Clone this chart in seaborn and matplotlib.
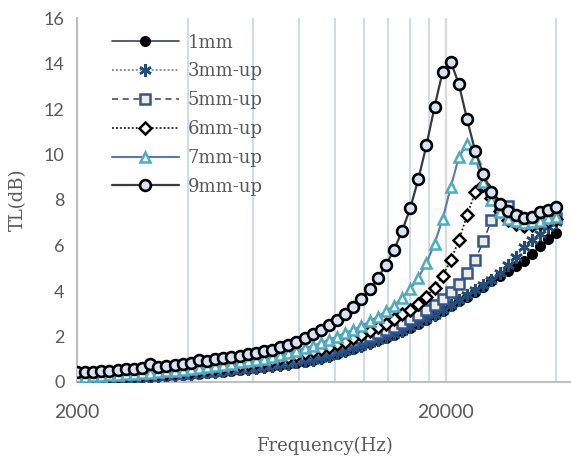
import numpy as np
import pandas as pd
import seaborn as sns
import matplotlib
matplotlib.use("Agg")
import matplotlib.pyplot as plt
from matplotlib.ticker import FixedLocator, NullFormatter, FixedFormatter

# ---------------- data ----------------
freq = [2000, 2104, 2214, 2329, 2450, 2578, 2712, 2854, 3002, 3159,
        3323, 3496, 3678, 3870, 4071, 4283, 4506, 4741, 4988, 5248,
        5521, 5809, 6111, 6430, 6764, 7117, 7487, 7877, 8288, 8719,
        9173, 9651, 10154, 10682, 11239, 11824, 12440, 13088, 13769, 14487,
        15241, 16035, 16870, 17749, 18673, 19645, 20669, 21745, 22878, 24069,
        25323, 26641, 28029, 29489, 31025, 32640, 34340, 36129, 38010, 40000]

tl_1mm = [0.10, 0.11, 0.12, 0.14, 0.15, 0.17, 0.18, 0.20, 0.22, 0.24,
          0.26, 0.28, 0.30, 0.32, 0.35, 0.37, 0.40, 0.43, 0.46, 0.49,
          0.53, 0.56, 0.60, 0.64, 0.69, 0.74, 0.79, 0.84, 0.90, 0.96,
          1.04, 1.14, 1.24, 1.35, 1.46, 1.58, 1.71, 1.83, 1.95, 2.08,
          2.23, 2.38, 2.56, 2.74, 2.94, 3.13, 3.33, 3.54, 3.75, 3.97,
          4.18, 4.42, 4.66, 4.88, 5.08, 5.32, 5.64, 5.96, 6.29, 6.55]

tl_3mm = [0.12, 0.13, 0.14, 0.16, 0.17, 0.19, 0.20, 0.22, 0.24, 0.26,
          0.28, 0.30, 0.32, 0.34, 0.37, 0.39, 0.42, 0.45, 0.48, 0.51,
          0.55, 0.58, 0.62, 0.66, 0.71, 0.76, 0.81, 0.86, 0.92, 0.98,
          1.06, 1.16, 1.26, 1.37, 1.48, 1.60, 1.73, 1.85, 1.97, 2.10,
          2.25, 2.40, 2.58, 2.76, 2.96, 3.16, 3.38, 3.60, 3.82, 4.04,
          4.26, 4.50, 4.78, 5.14, 5.50, 5.95, 6.24, 6.52, 6.80, 7.02]

tl_5mm = [0.15, 0.16, 0.18, 0.19, 0.21, 0.23, 0.25, 0.27, 0.29, 0.31,
          0.33, 0.35, 0.38, 0.41, 0.44, 0.47, 0.50, 0.54, 0.58, 0.62,
          0.67, 0.72, 0.77, 0.83, 0.89, 0.96, 1.03, 1.11, 1.19, 1.28,
          1.37, 1.47, 1.57, 1.68, 1.80, 1.92, 2.04, 2.17, 2.29, 2.43,
          2.58, 2.76, 2.95, 3.16, 3.39, 3.65, 3.96, 4.32, 4.79, 5.36,
          6.18, 7.10, 7.60, 7.75, 7.30, 7.05, 7.00, 7.05, 7.12, 7.20]

tl_6mm = [0.18, 0.19, 0.21, 0.23, 0.25, 0.27, 0.29, 0.31, 0.33, 0.36,
          0.38, 0.41, 0.44, 0.47, 0.50, 0.54, 0.58, 0.62, 0.66, 0.71,
          0.76, 0.81, 0.86, 0.92, 0.98, 1.05, 1.12, 1.19, 1.27, 1.36,
          1.45, 1.55, 1.66, 1.77, 1.92, 2.07, 2.24, 2.40, 2.56, 2.78,
          2.97, 3.17, 3.43, 3.75, 4.15, 4.67, 5.35, 6.24, 7.33, 8.33,
          8.68, 8.10, 7.50, 7.10, 6.95, 6.85, 6.90, 6.98, 7.08, 7.18]

tl_7mm = [0.22, 0.24, 0.26, 0.28, 0.30, 0.32, 0.34, 0.36, 0.39, 0.41,
          0.44, 0.47, 0.50, 0.53, 0.57, 0.61, 0.65, 0.70, 0.75, 0.80,
          0.86, 0.91, 0.97, 1.03, 1.10, 1.18, 1.26, 1.38, 1.48, 1.58,
          1.72, 1.84, 2.00, 2.15, 2.30, 2.46, 2.66, 2.87, 3.10, 3.36,
          3.68, 4.08, 4.58, 5.23, 6.08, 7.17, 8.57, 9.90, 10.45, 9.83,
          8.77, 8.00, 7.46, 7.16, 7.08, 7.00, 7.02, 7.09, 7.19, 7.27]

tl_9mm = [0.42, 0.44, 0.46, 0.48, 0.50, 0.53, 0.55, 0.58, 0.61, 0.78,
          0.66, 0.70, 0.75, 0.80, 0.84, 0.97, 0.91, 1.02, 1.07, 1.12,
          1.16, 1.22, 1.28, 1.35, 1.42, 1.52, 1.63, 1.78, 1.93, 2.11,
          2.29, 2.51, 2.73, 2.97, 3.31, 3.65, 4.09, 4.57, 5.13, 5.80,
          6.63, 7.63, 8.91, 10.40, 12.10, 13.64, 14.08, 13.08, 11.55, 10.15,
          9.13, 8.34, 7.82, 7.53, 7.34, 7.22, 7.27, 7.46, 7.56, 7.68]

labels = ["1mm", "3mm-up", "5mm-up", "6mm-up", "7mm-up", "9mm-up"]
series = [tl_1mm, tl_3mm, tl_5mm, tl_6mm, tl_7mm, tl_9mm]
x_ticks = [2000, 20000]
x_tick_labels = ["2000", "20000"]
x_minor_grid = [4000, 6000, 8000, 10000, 12000, 14000, 16000, 18000, 40000]
y_ticks = [0, 2, 4, 6, 8, 10, 12, 14, 16]

# ---------------- style ----------------
sns.set_theme(style="white")
plt.rcParams["font.family"] = ["DejaVu Serif"]
GRAY = "#595959"

styles = [
    dict(color="#44546A", lw=1.3, ls="-", marker="o", ms=7.0,
         mfc="black", mec="black", mew=1.0),
    dict(color="#5B86C5", lw=1.3, ls=(0, (1, 1.2)), marker=(6, 2, 0), ms=9.0,
         mfc="#1F4E79", mec="#1F4E79", mew=1.8),
    dict(color="#404040", lw=1.1, ls=(0, (4, 3)), marker="s", ms=7.0,
         mfc="#EEECE1", mec="#2F5597", mew=1.8),
    dict(color="#202020", lw=1.3, ls=(0, (1, 1.2)), marker="D", ms=6.0,
         mfc="white", mec="black", mew=1.8),
    dict(color="#5A7BA6", lw=1.5, ls="-", marker="^", ms=7.0,
         mfc="white", mec="#4BACC6", mew=1.8),
    dict(color="#3A3A3A", lw=1.6, ls="-", marker="o", ms=7.8,
         mfc="#D6E3F3", mec="black", mew=1.9),
]

fig = plt.figure(figsize=(5.71, 4.57), dpi=100)
ax = fig.add_axes([77 / 571, 75 / 457, 494 / 571, 364 / 457])

for lab, vals, st in zip(labels, series, styles):
    df = pd.DataFrame({"Frequency": freq, "TL": vals})
    sns.lineplot(data=df, x="Frequency", y="TL", ax=ax, label=lab,
                 sort=False, errorbar=None, color=st["color"],
                 linewidth=st["lw"], linestyle=st["ls"], marker=st["marker"],
                 markersize=st["ms"], markerfacecolor=st["mfc"],
                 markeredgecolor=st["mec"], markeredgewidth=st["mew"], zorder=3)

ax.set_xscale("log")
ax.set_xlim(2000, 43800)
ax.set_ylim(0, 16)

ax.xaxis.set_major_locator(FixedLocator(x_ticks))
ax.xaxis.set_major_formatter(FixedFormatter(x_tick_labels))
ax.xaxis.set_minor_locator(FixedLocator(x_minor_grid))
ax.xaxis.set_minor_formatter(NullFormatter())
ax.set_yticks(y_ticks)

ax.grid(False)
ax.xaxis.grid(True, which="minor", color="#CCD9EC", lw=1.3, zorder=0)
ax.xaxis.grid(True, which="major", color="#D9D9D9", lw=1.6, zorder=0)
ax.set_axisbelow(True)

for s in ["top", "right"]:
    ax.spines[s].set_visible(False)
for s in ["left", "bottom"]:
    ax.spines[s].set_color("#BFBFBF")
    ax.spines[s].set_linewidth(1.5)

ax.tick_params(axis="x", which="major", direction="out", length=5, width=1.2,
               color="#BFBFBF", pad=11, labelsize=14, labelcolor=GRAY)
ax.tick_params(axis="x", which="minor", length=0)
ax.tick_params(axis="y", which="major", direction="out", length=5, width=1.2,
               color="#BFBFBF", pad=4, labelsize=13, labelcolor=GRAY)
for t in ax.get_xticklabels() + ax.get_yticklabels():
    t.set_fontfamily("Lato")

ax.set_xlabel("Frequency(Hz)", fontsize=13, color=GRAY, labelpad=11)
ax.set_ylabel("TL(dB)", fontsize=13, color=GRAY, labelpad=12)

leg = ax.legend(loc="upper left", bbox_to_anchor=(0.071, 0.957), frameon=False,
                fontsize=13, handlelength=3.7, handletextpad=0.5,
                labelspacing=0.6, borderpad=0, borderaxespad=0)
for t in leg.get_texts():
    t.set_color(GRAY)

fig.savefig("out.png", dpi=100)
